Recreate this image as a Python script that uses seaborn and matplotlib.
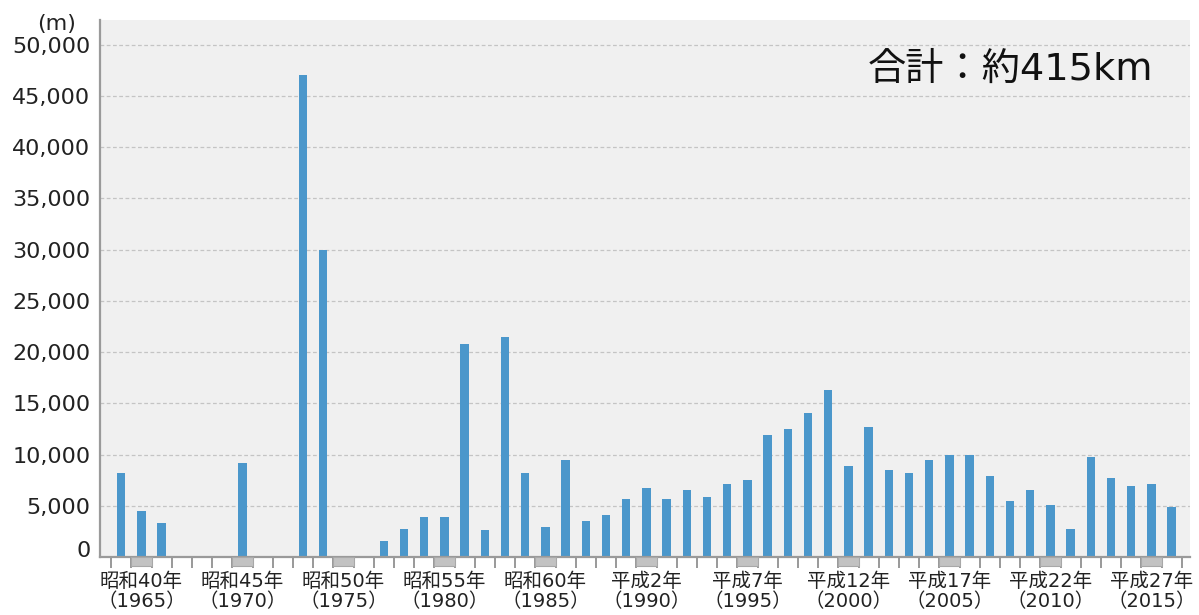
import numpy as np
import pandas as pd
import matplotlib
matplotlib.use("Agg")
import matplotlib.pyplot as plt
import matplotlib.transforms as mtransforms
from matplotlib.patches import Rectangle
import seaborn as sns

# ---- data ----
years = list(range(1964, 2017))
lengths_m = [8200, 4500, 3300, 0, 0, 0, 9200, 0, 0, 47000,
             30000, 0, 0, 1600, 2700, 3900, 3900, 20800, 2600, 21500,
             8200, 2900, 9500, 3500, 4100, 5700, 6700, 5700, 6500, 5900,
             7100, 7500, 11900, 12500, 14100, 16300, 8900, 12700, 8500, 8200,
             9500, 10000, 10000, 7900, 5500, 6500, 5100, 2700, 9800, 7700,
             6900, 7100, 4900]
label_years = [1965, 1970, 1975, 1980, 1985, 1990, 1995, 2000, 2005, 2010, 2015]
label_eras = ["昭和40年", "昭和45年", "昭和50年", "昭和55年", "昭和60年",
              "平成2年", "平成7年", "平成12年", "平成17年", "平成22年", "平成27年"]
y_ticks = [0, 5000, 10000, 15000, 20000, 25000, 30000, 35000, 40000, 45000, 50000]
total_text = "合計：約415km"
unit_text = "(m)"

df = pd.DataFrame({"year": years, "length": lengths_m})

sns.set_style("white")
plt.rcParams['font.family'] = ['DejaVu Sans', 'Noto Sans CJK JP']

fig = plt.figure(figsize=(11.99, 6.15), dpi=100)
ax = fig.add_axes([0.0834, 0.0943, 0.9925 - 0.0834, 0.9675 - 0.0943])
ax.set_facecolor("#f0f0f0")

sns.barplot(data=df, x="year", y="length", color="#4b97cb", saturation=1,
            width=0.42, linewidth=0, ax=ax, order=years)

n = len(years)
ax.set_xlim(-1.05, n - 1 + 0.91)
ax.set_ylim(0, 52400)

# y axis
ax.set_yticks(y_ticks)
ax.set_yticklabels([f"{v:,}" for v in y_ticks])
ax.tick_params(axis="y", length=0, pad=7, labelsize=16, labelcolor="#222222")
ax.yaxis.grid(True, linestyle=(0, (3, 2)), color="#c4c4c4", linewidth=0.9)
ax.xaxis.grid(False)
ax.set_axisbelow(True)

# x axis
pos = {y: i for i, y in enumerate(years)}
ax.set_xticks([pos[y] for y in label_years])
ax.set_xticklabels([f"{e}\n（{y}）" for e, y in zip(label_eras, label_years)],
                   linespacing=1.05)
ax.set_xticks(np.arange(-0.5, n, 1.0), minor=True)
ax.tick_params(axis="x", which="major", bottom=True, length=0, pad=11,
               labelsize=14, labelcolor="#222222")
ax.tick_params(axis="x", which="minor", bottom=True, length=8, width=1.2,
               color="#888888", direction="out")
ax.set_xlabel("")
ax.set_ylabel("")

for s in ["top", "right"]:
    ax.spines[s].set_visible(False)
for s in ["left", "bottom"]:
    ax.spines[s].set_color("#9a9a9a")
    ax.spines[s].set_linewidth(1.6)

# grey markers under labelled years
trans = mtransforms.blended_transform_factory(ax.transData, ax.transAxes)
for y in label_years:
    r = Rectangle((pos[y] - 0.5, -0.016), 1.0, 0.016, transform=trans,
                  facecolor="#c2c2c2", edgecolor="#a8a8a8", linewidth=0.8,
                  clip_on=False, zorder=6)
    ax.add_patch(r)

# lift the "0" label slightly
t0 = ax.yaxis.get_major_ticks()[0]
t0.label1.set_transform(t0.label1.get_transform() +
                        mtransforms.ScaledTranslation(0, 8 / 100, fig.dpi_scale_trans))

ax.text(0.966, 0.907, total_text, transform=ax.transAxes, ha="right", va="center",
        fontsize=27.5, color="#111111")
fig.text(0.047, 0.961, unit_text, ha="center", va="center", fontsize=16,
         color="#222222")

fig.savefig("out.png", dpi=100, facecolor="white")
